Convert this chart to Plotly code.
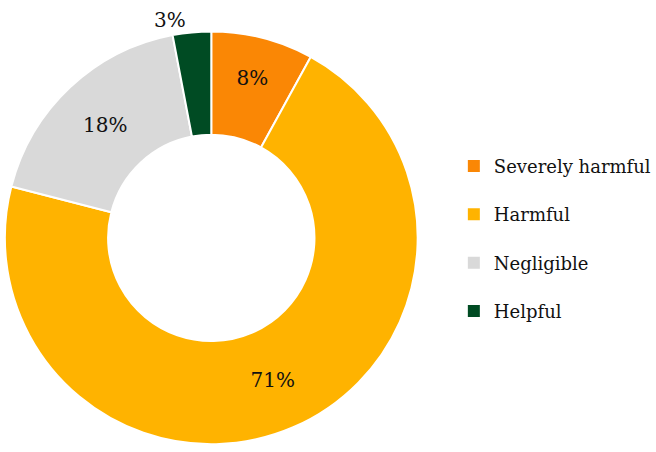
import plotly.graph_objects as go

# Share of responses by perceived impact
categories = ["Severely harmful", "Harmful", "Negligible", "Helpful"]
shares = [8, 71, 18, 3]
colors = ["#FA8705", "#FFB300", "#D9D9D9", "#004B23"]
label_positions = ["inside", "inside", "inside", "outside"]

FONT = "DejaVu Serif"

fig = go.Figure()

fig.add_trace(go.Pie(
    labels=categories,
    values=shares,
    marker=dict(colors=colors, line=dict(color="white", width=2)),
    hole=0.5,
    sort=False,
    direction="clockwise",
    rotation=0,
    texttemplate="%{value}%",
    textposition=label_positions,
    insidetextorientation="horizontal",
    textfont=dict(family=FONT, size=20, color="#111111"),
    showlegend=False,
    hoverinfo="label+percent",
    domain=dict(x=[0.006, 0.645], y=[0.0044, 0.9314]),
))

# Legend entries, one per category, spaced apart as separate groups
for name, col in zip(categories, colors):
    fig.add_trace(go.Scatter(
        x=[None], y=[None], mode="markers", name=name,
        legendgroup=name,
        marker=dict(symbol="square", size=12, color=col),
        hoverinfo="skip",
    ))

fig.update_layout(
    width=656, height=452,
    margin=dict(l=0, r=0, t=0, b=0),
    paper_bgcolor="white", plot_bgcolor="white",
    xaxis=dict(visible=False), yaxis=dict(visible=False),
    font=dict(family=FONT, color="#111111"),
    legend=dict(
        x=0.701, y=0.466, xanchor="left", yanchor="middle",
        font=dict(family=FONT, size=18, color="#111111"),
        tracegroupgap=22,
        bgcolor="rgba(0,0,0,0)",
    ),
)

fig.write_html("out.html")
